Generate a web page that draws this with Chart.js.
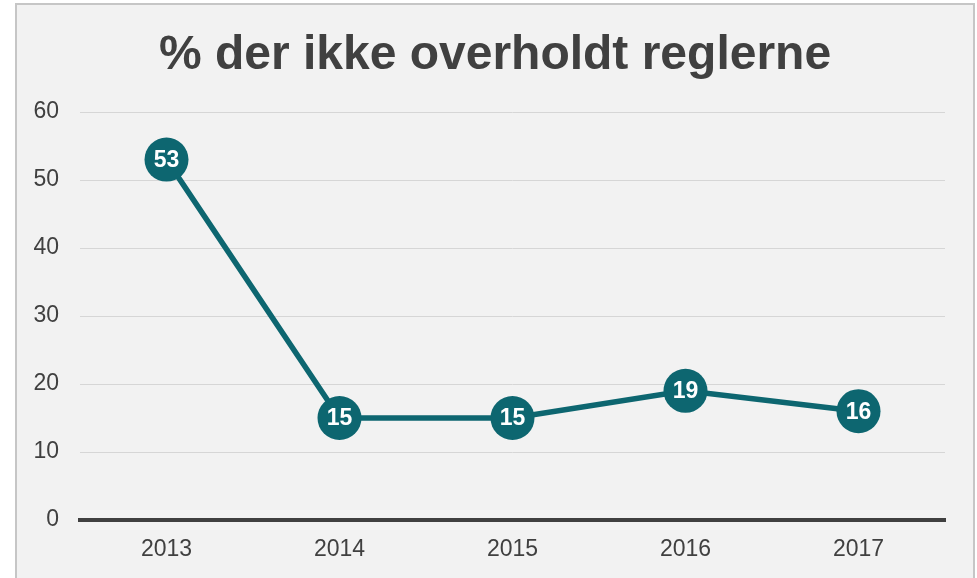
<!DOCTYPE html>
<html lang="no">
<head>
  <meta charset="UTF-8">
  <title>% der ikke overholdt reglerne</title>
  <script src="https://cdn.jsdelivr.net/npm/chart.js"></script>
  <style>
    body {
      margin: 0;
      background: #ffffff;
      font-family: "Liberation Sans", Arial, sans-serif;
    }
    .frame {
      position: absolute;
      left: 15px;
      top: 3px;
      width: 956px;
      height: 590px;
      background: #f2f2f2;
      border: 2px solid #c6c6c6;
    }
    .chartTitle {
      position: absolute;
      left: 0;
      top: 19px;
      width: 956px;
      text-align: center;
      font-size: 48px;
      line-height: 1.2;
      font-weight: bold;
      color: #404040;
    }
    canvas {
      position: absolute;
      left: 0;
      top: 0;
    }
  </style>
</head>
<body>
  <div class="frame">
    <canvas id="miCanvas" width="956" height="575"></canvas>
    <div class="chartTitle">% der ikke overholdt reglerne</div>
  </div>

  <script>
    const years = ["2013", "2014", "2015", "2016", "2017"];
    const pct = [53, 15, 15, 19, 16];
    const yTicks = [0, 10, 20, 30, 40, 50, 60];

    const teal = "#0d6670";
    const textGray = "#404040";

    // white numbers inside the points
    const pointLabels = {
      id: "pointLabels",
      afterDatasetsDraw(chart) {
        const ctx = chart.ctx;
        const meta = chart.getDatasetMeta(0);
        ctx.save();
        ctx.fillStyle = "#ffffff";
        ctx.font = "bold 23px 'Liberation Sans', Arial, sans-serif";
        ctx.textAlign = "center";
        ctx.textBaseline = "middle";
        meta.data.forEach((pt, i) => {
          ctx.fillText(String(pct[i]), pt.x, pt.y + 1);
        });
        ctx.restore();
      }
    };

    new Chart(document.getElementById("miCanvas").getContext("2d"), {
      type: "line",
      data: {
        labels: years,
        datasets: [{
          data: pct,
          borderColor: teal,
          backgroundColor: teal,
          borderWidth: 5.5,
          pointRadius: 22,
          pointHoverRadius: 22,
          pointBorderWidth: 0,
          tension: 0
        }]
      },
      options: {
        responsive: false,
        animation: false,
        layout: { padding: { left: 0, right: 28, top: 107, bottom: 0 } },
        scales: {
          x: {
            offset: true,
            grid: { display: false, drawTicks: false },
            border: { display: true, color: "#404040", width: 4 },
            ticks: {
              color: textGray,
              font: { family: "'Liberation Sans', Arial, sans-serif", size: 23 },
              padding: 16
            },
            afterFit(scale) { scale.height = 60; }
          },
          y: {
            min: 0,
            max: 60,
            afterBuildTicks(scale) {
              scale.ticks = yTicks.map(v => ({ value: v }));
            },
            grid: { color: "#d6d6d6", lineWidth: 1, drawTicks: false },
            border: { display: false },
            ticks: {
              color: textGray,
              font: { family: "'Liberation Sans', Arial, sans-serif", size: 23 },
              padding: 21
            },
            afterFit(scale) { scale.width = 63; }
          }
        },
        plugins: {
          legend: { display: false },
          tooltip: { enabled: false },
          title: { display: false }
        }
      },
      plugins: [pointLabels]
    });
  </script>
</body>
</html>
